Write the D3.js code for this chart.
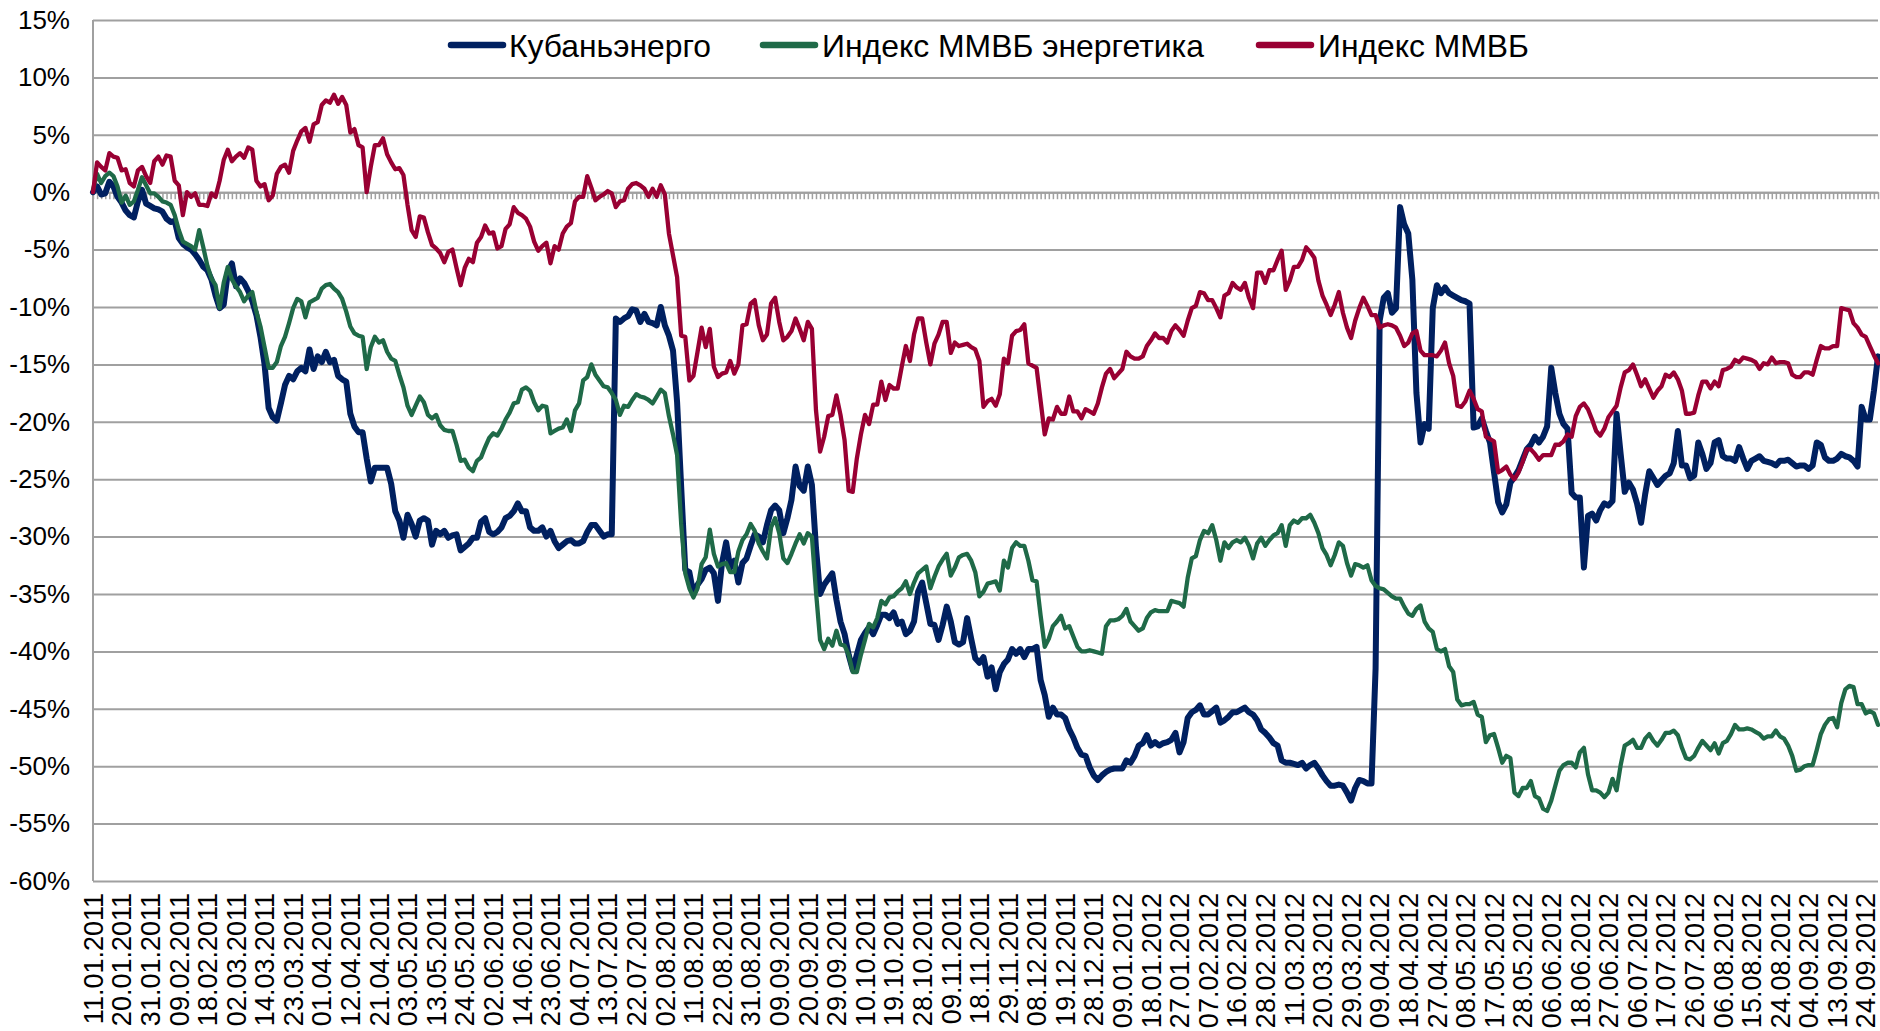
<!DOCTYPE html>
<html>
<head>
<meta charset="utf-8">
<script src="https://cdn.jsdelivr.net/npm/d3@7"></script>
<style>
body { margin: 0; background: #fff; }
svg { display: block; font-family: "Liberation Sans", Arial, sans-serif; }
</style>
</head>
<body>
<script>
const width = 1880
const height = 1031

const seriesNames = ['Кубаньэнерго', 'Индекс ММВБ энергетика', 'Индекс ММВБ']

const tickLabels = [
    '11.01.2011','20.01.2011','31.01.2011','09.02.2011','18.02.2011','02.03.2011','14.03.2011','23.03.2011',
    '01.04.2011','12.04.2011','21.04.2011','03.05.2011','13.05.2011','24.05.2011','02.06.2011','14.06.2011',
    '23.06.2011','04.07.2011','13.07.2011','22.07.2011','02.08.2011','11.08.2011','22.08.2011','31.08.2011',
    '09.09.2011','20.09.2011','29.09.2011','10.10.2011','19.10.2011','28.10.2011','09.11.2011','18.11.2011',
    '29.11.2011','08.12.2011','19.12.2011','28.12.2011','09.01.2012','18.01.2012','27.01.2012','07.02.2012',
    '16.02.2012','28.02.2012','11.03.2012','20.03.2012','29.03.2012','09.04.2012','18.04.2012','27.04.2012',
    '08.05.2012','17.05.2012','28.05.2012','06.06.2012','18.06.2012','27.06.2012','06.07.2012','17.07.2012',
    '26.07.2012','06.08.2012','15.08.2012','24.08.2012','04.09.2012','13.09.2012','24.09.2012'
]
const labelStep = 7

const yTicks = [15, 10, 5, 0, -5, -10, -15, -20, -25, -30, -35, -40, -45, -50, -55, -60]

// % change from 11.01.2011, one value per trading day
const kubanenergo = [
    0.0, 0.5, -0.2, -0.1, 0.9, 0.5, -0.4, -0.9, -1.6, -2.0,
    -2.2, -0.8, 0.2, -1.0, -1.2, -1.4, -1.5, -1.7, -2.3, -2.6,
    -2.5, -4.0, -4.5, -4.8, -5.0, -5.4, -5.9, -6.5, -6.8, -7.6,
    -9.0, -10.1, -9.8, -7.0, -6.2, -8.2, -7.5, -7.9, -8.6, -9.5,
    -10.7, -12.6, -15.0, -18.8, -19.6, -19.9, -18.4, -16.8, -16.0, -16.3,
    -15.6, -15.3, -15.6, -13.7, -15.4, -14.3, -14.8, -13.9, -14.8, -14.6,
    -16.0, -16.3, -16.5, -19.3, -20.4, -20.9, -20.9, -23.2, -25.2, -24.0,
    -24.0, -24.0, -24.0, -25.4, -27.8, -28.6, -30.1, -28.1, -28.9, -30.0,
    -28.6, -28.4, -28.6, -30.7, -29.5, -29.8, -29.5, -30.1, -29.9, -29.8,
    -31.2, -30.9, -30.6, -30.1, -30.1, -28.7, -28.4, -29.6, -29.8, -29.6,
    -29.2, -28.4, -28.2, -27.8, -27.1, -27.8, -27.8, -29.2, -29.5, -29.5,
    -29.2, -30.0, -29.5, -30.4, -31.0, -30.7, -30.4, -30.3, -30.6, -30.6,
    -30.4, -29.6, -29.0, -29.0, -29.5, -30.0, -29.8, -29.8, -11.0, -11.3,
    -11.0, -10.8, -10.2, -10.3, -11.3, -10.6, -11.3, -11.4, -11.6, -10.0,
    -11.6, -12.5, -13.8, -18.3, -25.7, -32.9, -33.1, -35.0, -34.2, -33.7,
    -32.9, -32.7, -33.2, -35.6, -32.3, -30.5, -32.7, -32.1, -34.0, -32.3,
    -31.9, -30.8, -29.8, -30.0, -30.5, -29.0, -27.7, -27.3, -27.7, -29.7,
    -28.4, -26.8, -23.9, -25.6, -26.0, -23.9, -25.5, -31.0, -35.0, -34.2,
    -33.7, -33.2, -35.5, -37.4, -38.5, -40.3, -41.6, -40.3, -39.0, -38.4,
    -37.9, -38.5, -37.7, -36.8, -36.8, -37.1, -36.6, -37.6, -37.4, -38.5,
    -38.2, -37.4, -34.8, -34.0, -35.8, -37.6, -37.7, -39.0, -37.7, -36.1,
    -37.4, -39.2, -39.4, -39.2, -37.1, -38.9, -40.6, -41.0, -40.5, -42.2,
    -41.4, -43.3, -41.8, -41.1, -40.7, -39.8, -40.2, -39.8, -40.5, -39.8,
    -39.8, -39.6, -42.5, -43.8, -45.7, -44.9, -45.5, -45.5, -45.8, -46.8,
    -47.5, -48.4, -49.0, -49.1, -50.1, -50.8, -51.2, -50.8, -50.5, -50.3,
    -50.2, -50.2, -50.2, -49.5, -49.7, -49.1, -48.2, -48.0, -47.3, -48.2,
    -47.9, -48.2, -48.0, -47.9, -47.7, -47.1, -48.8, -47.9, -45.8, -45.3,
    -45.1, -44.7, -45.5, -45.5, -45.2, -44.9, -46.2, -46.0, -45.7, -45.3,
    -45.3, -45.1, -44.9, -45.3, -45.5, -46.0, -46.8, -47.1, -47.5, -48.0,
    -48.2, -49.5, -49.7, -49.7, -49.8, -49.9, -49.7, -50.2, -49.9, -49.7,
    -50.2, -50.8, -51.3, -51.7, -51.7, -51.6, -51.7, -52.3, -53.0, -51.9,
    -51.2, -51.3, -51.5, -51.5, -41.5, -11.2, -9.2, -8.8, -10.5, -10.1,
    -1.3, -2.8, -3.6, -7.6, -17.5, -21.8, -20.2, -20.6, -10.1, -8.1,
    -8.8, -8.3, -8.8, -9.0, -9.2, -9.4, -9.5, -9.7, -20.5, -20.4,
    -19.7, -20.8, -21.8, -24.4, -27.0, -27.9, -27.2, -25.3, -24.8, -24.2,
    -23.3, -22.4, -22.0, -21.3, -21.8, -21.3, -20.4, -15.3, -17.5, -19.3,
    -20.2, -20.6, -26.2, -26.6, -26.6, -32.7, -28.2, -28.0, -28.6, -27.7,
    -27.1, -27.3, -26.9, -19.3, -22.8, -26.1, -25.3, -25.9, -27.1, -28.8,
    -26.3, -24.3, -24.9, -25.5, -25.1, -24.7, -24.5, -23.6, -20.8, -23.8,
    -23.8, -24.9, -24.7, -21.8, -22.8, -24.1, -23.6, -21.8, -21.6, -23.0,
    -23.2, -23.2, -23.4, -22.2, -23.2, -24.1, -23.4, -23.2, -23.0, -23.4,
    -23.5, -23.6, -23.8, -23.4, -23.4, -23.3, -23.6, -23.9, -23.8, -23.8,
    -24.1, -23.8, -21.8, -22.0, -23.1, -23.4, -23.4, -23.2, -22.8, -23.0,
    -23.1, -23.4, -23.9, -18.7, -19.8, -19.8, -17.3, -14.3
]

const micexPower = [
    0.2, 1.6, 0.8, 1.4, 1.7, 1.4, 0.5, -0.9, -0.3, -1.1,
    -0.8, 0.2, 1.3, 0.6, -0.1, -0.1, -0.4, -0.8, -0.9, -1.1,
    -2.0, -3.3, -4.3, -4.5, -4.7, -5.0, -3.3, -4.8, -6.4, -7.5,
    -8.1, -10.1, -7.9, -6.5, -7.6, -8.2, -8.7, -9.5, -9.0, -8.7,
    -10.4, -11.7, -13.5, -15.3, -15.3, -14.8, -13.4, -12.6, -11.4, -10.1,
    -9.3, -9.5, -10.9, -9.6, -9.4, -9.2, -8.4, -8.1, -8.0, -8.4,
    -8.7, -9.3, -10.4, -11.7, -12.3, -12.5, -12.6, -15.4, -13.5, -12.6,
    -13.1, -12.9, -13.9, -14.5, -14.7, -15.9, -17.0, -18.6, -19.4, -18.6,
    -17.8, -18.3, -19.4, -19.7, -19.4, -20.3, -20.7, -20.8, -20.8, -22.0,
    -23.4, -23.3, -24.0, -24.3, -23.4, -23.1, -22.2, -21.4, -21.0, -21.2,
    -20.6, -19.8, -19.2, -18.4, -18.3, -17.2, -17.0, -17.3, -18.3, -19.0,
    -18.6, -18.7, -21.0, -20.8, -20.6, -20.5, -19.8, -20.8, -19.0, -18.4,
    -16.4, -16.1, -15.0, -15.9, -16.4, -16.9, -17.0, -17.5, -18.1, -19.4,
    -18.6, -18.7, -18.1, -17.6, -17.8, -17.9, -18.1, -18.4, -17.8, -17.2,
    -17.5, -19.5, -21.1, -22.9, -28.9, -33.2, -34.5, -35.3, -34.5, -32.4,
    -31.8, -29.4, -31.5, -32.6, -32.4, -32.3, -33.1, -33.1, -31.3, -30.3,
    -29.8, -28.9, -29.5, -30.6, -31.3, -31.9, -29.2, -28.4, -29.7, -31.9,
    -32.3, -31.5, -30.6, -29.8, -30.6, -29.7, -30.0, -34.8, -39.0, -39.8,
    -38.9, -39.5, -38.2, -39.4, -39.5, -40.3, -41.8, -41.8, -40.3, -39.0,
    -37.6, -37.9, -37.1, -35.6, -35.9, -35.3, -35.2, -34.8, -34.5, -33.9,
    -35.0, -34.0, -33.2, -32.9, -32.6, -34.5, -33.5, -32.6, -32.0, -31.5,
    -33.4, -32.7, -31.8, -31.6, -31.5, -32.1, -33.1, -35.2, -34.8, -34.1,
    -34.0, -33.9, -34.7, -32.1, -32.7, -31.0, -30.5, -30.8, -30.8, -32.1,
    -33.8, -33.9, -36.9, -39.6, -38.9, -37.8, -37.4, -36.9, -38.0, -37.8,
    -38.7, -39.6, -40.0, -40.0, -39.9, -40.0, -40.1, -40.2, -37.8, -37.3,
    -37.3, -37.2, -36.9, -36.3, -37.4, -37.8, -38.2, -38.0, -37.1, -36.6,
    -36.4, -36.5, -36.5, -36.5, -35.6, -35.7, -35.8, -36.1, -33.6, -31.9,
    -31.7, -30.3, -29.5, -29.7, -29.0, -30.3, -32.1, -30.5, -31.0, -30.5,
    -30.3, -30.5, -30.1, -30.8, -31.9, -30.6, -30.1, -30.8, -30.3, -29.9,
    -29.7, -29.0, -30.8, -29.0, -28.6, -28.8, -28.4, -28.4, -28.1, -28.8,
    -29.7, -31.0, -31.6, -32.5, -31.6, -30.5, -30.8, -32.3, -33.4, -32.4,
    -32.5, -32.7, -32.5, -33.8, -34.3, -34.5, -34.6, -34.9, -35.2, -35.4,
    -35.4, -36.1, -36.7, -36.9, -36.3, -36.0, -37.4, -38.0, -38.3, -39.8,
    -40.0, -39.8, -41.3, -41.8, -44.2, -44.7, -44.6, -44.6, -44.4, -45.5,
    -45.7, -47.9, -47.3, -47.2, -48.4, -49.7, -49.1, -49.3, -52.3, -52.6,
    -51.9, -51.9, -51.3, -52.6, -52.8, -53.7, -53.9, -53.0, -51.7, -50.4,
    -49.9, -49.7, -49.7, -50.1, -48.8, -48.4, -50.7, -52.1, -52.1, -52.3,
    -52.7, -52.3, -51.1, -52.1, -49.9, -48.2, -48.0, -47.7, -48.4, -48.4,
    -47.6, -47.2, -47.8, -48.2, -47.7, -47.1, -47.1, -46.9, -47.3, -48.4,
    -49.3, -49.4, -49.1, -48.4, -47.8, -48.2, -48.6, -48.0, -48.9, -48.0,
    -47.8, -47.2, -46.4, -46.8, -46.8, -46.7, -46.8, -47.0, -47.2, -47.6,
    -47.4, -47.4, -46.9, -47.4, -47.6, -48.2, -49.1, -50.4, -50.3, -50.0,
    -49.9, -49.9, -48.6, -47.2, -46.4, -45.9, -45.8, -46.6, -44.5, -43.3,
    -43.0, -43.1, -44.6, -44.6, -45.4, -45.2, -45.4, -46.4
]

const micex = [
    0.0, 2.6, 2.2, 1.9, 3.4, 3.1, 3.0, 1.9, 2.0, 0.8,
    0.5, 1.9, 2.2, 1.4, 0.8, 2.7, 3.1, 2.4, 3.2, 3.1,
    1.0, 0.6, -2.0, 0.0, -0.4, -0.1, -1.1, -1.1, -1.2, -0.1,
    -0.4, 1.0, 2.8, 3.7, 2.7, 3.1, 3.4, 3.0, 3.9, 3.7,
    1.0, 0.5, 0.7, -0.7, -0.3, 1.6, 2.2, 2.4, 1.7, 3.6,
    4.5, 5.3, 5.6, 4.4, 5.9, 6.1, 7.6, 8.0, 7.8, 8.5,
    7.7, 8.3, 7.6, 5.2, 5.5, 4.1, 3.9, 0.0, 2.2, 4.1,
    4.1, 4.7, 3.3, 2.6, 2.0, 2.1, 1.5, -1.1, -3.3, -3.9,
    -2.1, -2.2, -3.5, -4.6, -4.9, -5.3, -6.1, -5.2, -5.0, -6.6,
    -8.1, -6.6, -5.8, -6.1, -4.4, -3.9, -2.9, -3.6, -3.5, -4.9,
    -4.7, -3.2, -2.8, -1.3, -1.8, -2.0, -2.3, -3.0, -4.3, -5.1,
    -4.7, -4.4, -6.2, -4.7, -5.0, -3.6, -3.0, -2.7, -0.8, -0.4,
    -0.4, 1.4, 0.4, -0.7, -0.4, -0.2, 0.1, -0.1, -1.3, -0.8,
    -0.7, 0.3, 0.7, 0.8, 0.6, 0.3, -0.4, 0.3, -0.4, 0.6,
    -0.2, -3.6, -5.5, -7.4, -12.5, -12.6, -16.4, -16.0, -13.9, -11.8,
    -13.5, -11.9, -15.2, -16.1, -15.8, -15.7, -14.7, -15.8, -15.0, -11.6,
    -11.5, -9.7, -9.4, -11.6, -12.9, -12.4, -9.7, -9.2, -11.3, -12.9,
    -12.6, -12.1, -11.0, -11.9, -12.9, -11.3, -11.9, -19.0, -22.6, -21.3,
    -19.5, -19.4, -17.7, -19.4, -21.6, -26.0, -26.1, -23.2, -21.1, -19.4,
    -20.2, -18.5, -18.5, -16.5, -18.1, -16.8, -17.1, -17.1, -15.2, -13.4,
    -14.7, -12.4, -11.0, -11.0, -13.1, -15.0, -13.2, -12.4, -11.3, -11.3,
    -14.0, -13.1, -13.4, -13.3, -13.2, -13.5, -13.7, -14.7, -18.7, -18.2,
    -18.0, -18.6, -17.6, -14.5, -14.9, -12.5, -12.1, -12.0, -11.5, -14.9,
    -15.1, -15.3, -18.2, -21.1, -19.7, -19.8, -18.7, -19.3, -19.3, -17.8,
    -19.1, -19.1, -19.7, -18.9, -19.1, -19.3, -18.4, -17.0, -15.8, -15.4,
    -16.2, -15.8, -15.4, -13.9, -14.3, -14.5, -14.5, -14.3, -13.4, -12.9,
    -12.3, -12.7, -12.7, -13.1, -12.1, -11.6, -12.0, -12.5, -11.2, -10.1,
    -9.9, -8.7, -8.8, -9.4, -9.4, -10.1, -10.9, -9.0, -8.8, -7.9,
    -8.3, -8.5, -7.9, -9.2, -10.1, -7.0, -7.0, -7.9, -6.8, -6.8,
    -5.9, -5.1, -8.5, -7.7, -6.5, -6.5, -5.9, -4.8, -5.2, -5.7,
    -7.7, -9.0, -9.8, -10.7, -9.8, -8.7, -10.5, -11.8, -12.7, -11.2,
    -10.1, -9.2, -9.9, -10.7, -10.7, -11.8, -11.6, -11.5, -11.6, -11.8,
    -12.5, -13.4, -13.1, -12.3, -12.1, -13.8, -14.2, -14.2, -14.2, -14.3,
    -13.8, -13.1, -14.9, -16.0, -18.6, -18.7, -18.2, -17.3, -18.0, -18.9,
    -19.1, -21.3, -21.5, -21.7, -24.4, -24.2, -23.9, -24.6, -25.0, -24.4,
    -23.5, -22.4, -22.4, -22.8, -23.3, -22.9, -22.9, -22.9, -22.0, -22.0,
    -21.7, -21.1, -21.3, -19.5, -18.7, -18.4, -18.9, -19.8, -20.8, -21.2,
    -20.6, -19.6, -19.1, -18.6, -17.0, -15.7, -15.5, -15.0, -15.9, -16.9,
    -16.3, -17.1, -17.9, -17.3, -16.9, -15.9, -16.1, -15.7, -16.3, -17.3,
    -19.3, -19.3, -19.2, -17.7, -16.5, -16.5, -17.1, -16.5, -16.9, -15.5,
    -15.4, -15.2, -14.6, -14.8, -14.4, -14.5, -14.6, -14.8, -15.4, -14.9,
    -15.0, -14.4, -14.9, -14.8, -14.8, -14.9, -15.9, -16.1, -16.1, -15.7,
    -15.7, -15.9, -14.6, -13.4, -13.6, -13.6, -13.4, -13.4, -10.1, -10.2,
    -10.3, -11.4, -11.8, -12.4, -12.6, -13.4, -14.2, -14.9
]

const colors = {
    kuban: '#002060',
    power: '#1f6a48',
    micex: '#990033',
    grid: '#a0a0a0',
    text: '#000'
}

const plot = {left: 93, right: 1878, top: 20, bottom: 881}

const svg = d3.select('body')
    .append('svg')
    .attr('width', width)
    .attr('height', height)

const x = d3.scaleLinear()
    .domain([0, kubanenergo.length - 1])
    .range([plot.left, plot.right])

const y = d3.scaleLinear()
    .domain([-60, 15])
    .range([plot.bottom, plot.top])

// horizontal grid + % labels
const yAxis = svg.append('g')
    .attr('transform', `translate(${plot.left},0)`)
    .call(d3.axisLeft(y)
        .tickValues(yTicks)
        .tickSize(-(plot.right - plot.left))
        .tickPadding(23)
        .tickFormat(d => d + '%'))

yAxis.select('.domain').remove()
yAxis.selectAll('line')
    .attr('stroke', colors.grid)
    .attr('stroke-width', 2)
yAxis.selectAll('text')
    .attr('fill', colors.text)
    .attr('font-size', 26)
    .attr('font-family', '"Liberation Sans", Arial, sans-serif')

svg.append('line')
    .attr('x1', plot.left).attr('x2', plot.left)
    .attr('y1', plot.top).attr('y2', plot.bottom)
    .attr('stroke', colors.grid)
    .attr('stroke-width', 2)

// category axis crossing at 0%, a tick for every trading day
const xAxis = svg.append('g')
    .attr('transform', `translate(0,${y(0)})`)
    .call(d3.axisBottom(x)
        .tickValues(d3.range(kubanenergo.length))
        .tickSize(7)
        .tickSizeOuter(0)
        .tickFormat(''))

xAxis.select('.domain')
    .attr('stroke', colors.grid)
    .attr('stroke-width', 2)
xAxis.selectAll('line')
    .attr('stroke', colors.grid)
    .attr('stroke-width', 1.5)

svg.append('g')
    .selectAll('text')
    .data(tickLabels)
    .enter().append('text')
    .attr('transform', (d, i) => `translate(${x(i * labelStep)},893) rotate(-90)`)
    .attr('text-anchor', 'end')
    .attr('dy', '0.36em')
    .attr('font-size', 27)
    .attr('fill', colors.text)
    .text(d => d)

const line = d3.line()
    .x((d, i) => x(i))
    .y(d => y(d))

const series = [
    {name: seriesNames[0], values: kubanenergo, color: colors.kuban, width: 6},
    {name: seriesNames[1], values: micexPower, color: colors.power, width: 4.3},
    {name: seriesNames[2], values: micex, color: colors.micex, width: 4.3}
]

svg.append('g')
    .selectAll('path')
    .data(series)
    .enter().append('path')
    .attr('d', d => line(d.values))
    .attr('fill', 'none')
    .attr('stroke', d => d.color)
    .attr('stroke-width', d => d.width)
    .attr('stroke-linejoin', 'round')
    .attr('stroke-linecap', 'round')

// legend
const legendItems = [
    {x: 451, textX: 509, textW: 202},
    {x: 763, textX: 822, textW: 382},
    {x: 1259, textX: 1318, textW: 211}
]

const legend = svg.append('g')
    .selectAll('g')
    .data(series)
    .enter().append('g')

legend.append('line')
    .attr('x1', (d, i) => legendItems[i].x)
    .attr('x2', (d, i) => legendItems[i].x + 52)
    .attr('y1', 45).attr('y2', 45)
    .attr('stroke', d => d.color)
    .attr('stroke-width', 6.5)
    .attr('stroke-linecap', 'round')

legend.append('text')
    .attr('x', (d, i) => legendItems[i].textX)
    .attr('y', 57)
    .attr('font-size', 32)
    .attr('fill', colors.text)
    .attr('textLength', (d, i) => legendItems[i].textW)
    .attr('lengthAdjust', 'spacingAndGlyphs')
    .text(d => d.name)
</script>
</body>
</html>
